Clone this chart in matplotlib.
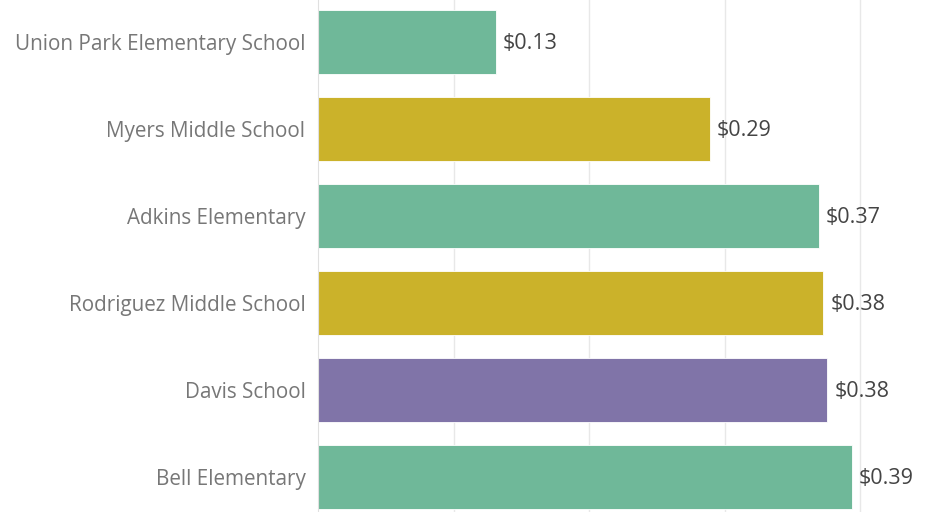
import matplotlib.pyplot as plt

plt.rcParams['font.family'] = ['Open Sans', 'DejaVu Sans']

schools = ['Union Park Elementary School', 'Myers Middle School', 'Adkins Elementary',
           'Rodriguez Middle School', 'Davis School', 'Bell Elementary']
values = [0.131, 0.289, 0.370, 0.373, 0.376, 0.394]
labels = ['$0.13', '$0.29', '$0.37', '$0.38', '$0.38', '$0.39']
colors = ['#6fb899', '#cbb22a', '#6fb899', '#cbb22a', '#8074a8', '#6fb899']

fig = plt.figure(figsize=(9.45, 5.12), dpi=100)
ax = fig.add_axes([318 / 945, 0, 627 / 945, 1])

ypos = list(range(len(schools)))
ax.barh(ypos, values, height=0.73, color=colors, edgecolor='white', linewidth=0.6, zorder=2)

for y, v, t in zip(ypos, values, labels):
    ax.text(v + 0.005, y + 0.02, t, va='center', ha='left', fontsize=15.5, color='#444444')

ax.set_xlim(0, 627 / 1355)
ax.set_ylim(470 / 87, -42 / 87)
ax.set_xticks([0.1, 0.2, 0.3, 0.4])
ax.xaxis.grid(True, color='#e8e8e8', linewidth=1, zorder=0)
ax.tick_params(axis='x', length=0, labelbottom=False)
ax.set_yticks(ypos)
ax.set_yticklabels(schools, fontsize=14.9, color='#777777')
ax.tick_params(axis='y', length=0, pad=9)

for s in ['top', 'right', 'bottom']:
    ax.spines[s].set_visible(False)
ax.spines['left'].set_color('#e0e0e0')

fig.savefig('out.png', dpi=100)
